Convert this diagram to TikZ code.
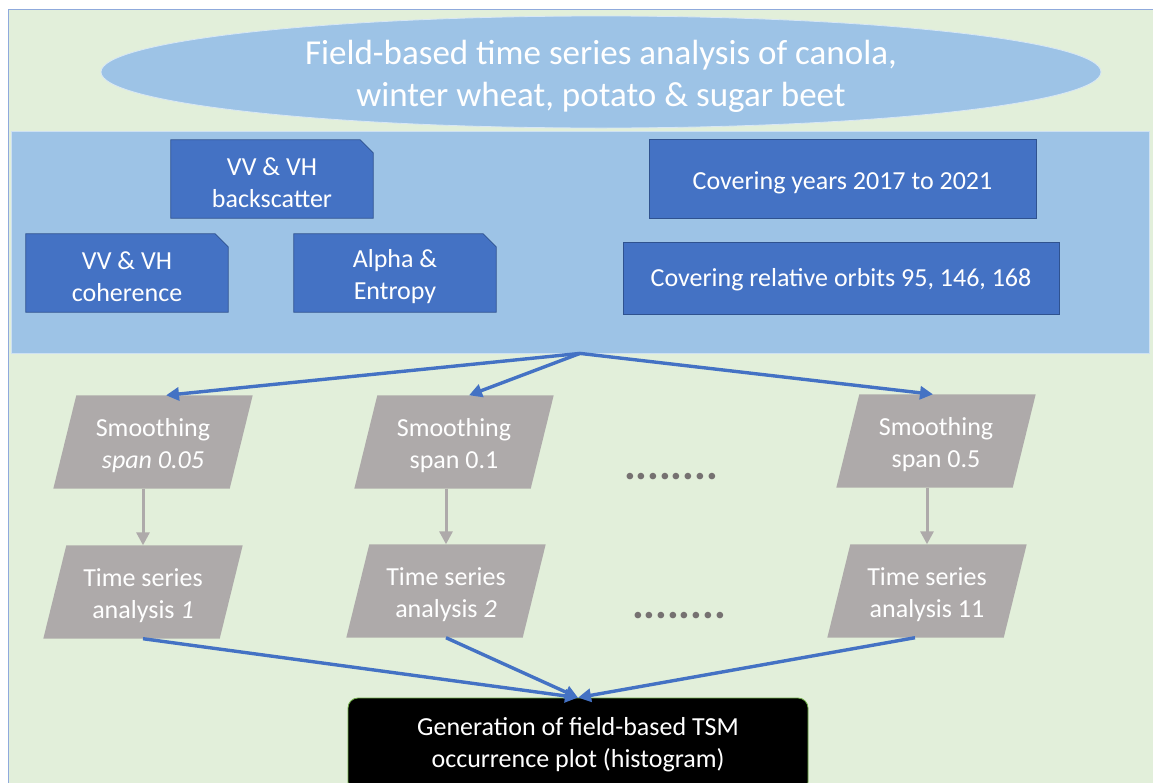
\documentclass[tikz,border=0pt]{standalone}
\usepackage{fontspec}
\setmainfont{Carlito}
\usetikzlibrary{shapes.geometric,arrows.meta,calc}
\definecolor{bgreen}{HTML}{E2EFDA}
\definecolor{lblue}{HTML}{9DC3E6}
\definecolor{mblue}{HTML}{4472C4}
\definecolor{dblue}{HTML}{2F528F}
\definecolor{pgrey}{HTML}{AEAAAA}
\definecolor{dotgrey}{HTML}{767171}
\definecolor{framec}{HTML}{8FAADC}
\definecolor{gborder}{HTML}{70AD47}
\begin{document}
\begin{tikzpicture}[x=1pt,y=-1pt,
  txt/.style={text=white,font=\fontsize{26}{32}\selectfont,align=center},
  lab/.style={txt,yshift=-4pt},
  snipbox/.style={rectangle,inner sep=0pt,minimum width=202pt,minimum height=78pt},
  bbox/.style={rectangle,fill=mblue,draw=dblue,line width=0.8pt,inner sep=0pt},
  parabox/.style={rectangle,inner sep=0pt,minimum width=176pt,minimum height=93pt},
  bluearrow/.style={mblue,line width=3.4pt,-{Triangle[length=13pt,width=13pt]}},
  greyarrow/.style={pgrey,line width=3pt,-{Triangle[length=13pt,width=13pt]}},
  dots/.style={text=dotgrey,font=\fontsize{44}{44}\selectfont\bfseries,anchor=base,inner sep=0pt}
]
\useasboundingbox (0,0) rectangle (1153,782);
\fill[white] (0,0) rectangle (1153,782);
\fill[bgreen] (8,9) rectangle (1160,790);
\draw[framec,line width=1pt] (8,790) -- (8,9) -- (1160,9);

% title ellipse
\node[ellipse,fill=lblue,draw=white!60!lblue,line width=0.8pt,minimum width=1000pt,minimum height=112pt,
  label={[text=white,font=\fontsize{35}{42}\selectfont,align=center,yshift=-4.5pt]center:{Field-based time series analysis of canola,\\winter wheat, potato \& sugar beet}}] (title) at (601,72) {};

% blue band
\node[rectangle,fill=lblue,draw=white!50!lblue,line width=0.8pt,minimum width=1138pt,minimum height=222pt] (band) at (580,242) {};

% snipped boxes
\node[snipbox] (bs) at (272,179) {};
\node[snipbox] (coh) at (127,273) {};
\node[snipbox] (alpha) at (395,273) {};
\foreach \n in {bs,coh,alpha}{
  \filldraw[mblue,draw=dblue,line width=0.8pt] (\n.south west) -- (\n.north west) -- ($(\n.north east)+(-13,0)$) -- ($(\n.north east)+(0,13)$) -- (\n.south east) -- cycle;
}
\node[lab] (bst) at (bs) {VV \& VH\\backscatter};
\node[lab] (coht) at (coh) {VV \& VH\\coherence};
\node[lab] (alphat) at (alpha) {Alpha \&\\Entropy};

\node[bbox,minimum width=387pt,minimum height=79pt,label={[lab]center:Covering years 2017 to 2021}] (years) at (842.5,178.5) {};
\node[bbox,minimum width=436pt,minimum height=72pt,label={[txt,yshift=-2pt]center:Covering relative orbits 95, 146, 168}] (orbits) at (841,278) {};

% parallelograms
\node[parabox] (s1) at (153,442) {};
\node[parabox] (s2) at (454,442) {};
\node[parabox] (s3) at (936,441) {};
\node[parabox] (t1) at (143,592) {};
\node[parabox] (t2) at (446,591) {};
\node[parabox] (t3) at (927,591) {};
\foreach \n in {s1,s2,s3,t1,t2,t3}{
  \fill[pgrey] ($(\n.south west)+(-11.5,0)$) -- ($(\n.north west)+(11.5,0)$) -- ($(\n.north east)+(11.5,0)$) -- ($(\n.south east)+(-11.5,0)$) -- cycle;
}
\node[lab,yshift=0.5pt] (s1t) at (s1) {Smoothing\\\textit{span 0.05}};
\node[lab,yshift=0.5pt] (s2t) at (s2) {Smoothing\\span 0.1};
\node[lab,yshift=0.5pt] (s3t) at (s3) {Smoothing\\span 0.5};
\node[lab] (t1t) at (t1) {Time series\\analysis \textit{1}};
\node[lab] (t2t) at (t2) {Time series\\analysis \textit{2}};
\node[lab] (t3t) at (t3) {Time series\\analysis 11};

\node[dots] (d1) at (671,479) {........};
\node[dots] (d2) at (679,618) {........};

% output box
\node[rectangle,rounded corners=10pt,fill=black,draw=gborder,line width=0.8pt,minimum width=460pt,minimum height=94pt,
  text=white,font=\fontsize{26}{32}\selectfont,align=center] (gen) at (578,745)
  {Generation of field-based TSM\\occurrence plot (histogram)};

% connectors
\draw[bluearrow] (band.south) -- ($(s1.north)+(13,0)$);
\draw[bluearrow] (band.south) -- ($(s2.north)+(15,0)$);
\draw[bluearrow] (band.south) -- ($(s3.north)+(-3,0)$);
\draw[greyarrow] (s1.south -| t1.north) -- (t1.north);
\draw[greyarrow] (s2.south -| t2.north) -- (t2.north);
\draw[greyarrow] (s3.south -| t3.north) -- (t3.north);
\draw[bluearrow] (t1.south) -- (gen.north);
\draw[bluearrow] (t2.south) -- (gen.north);
\draw[bluearrow] ($(t3.south)+(-12,0)$) -- (gen.north);
\end{tikzpicture}
\end{document}
